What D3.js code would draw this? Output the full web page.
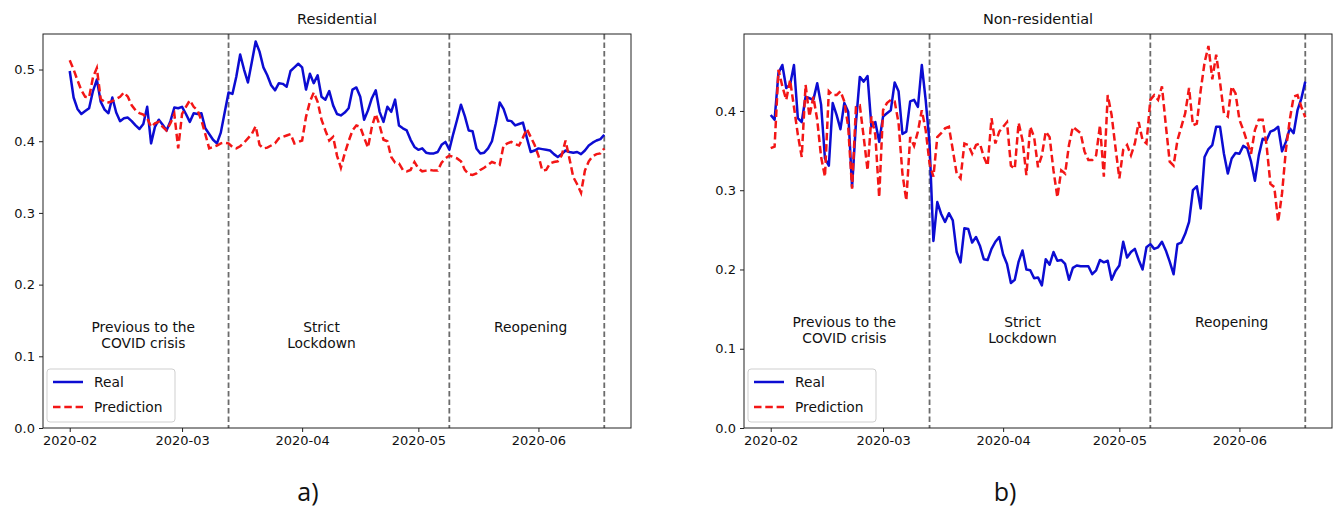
<!DOCTYPE html>
<html>
<head>
<meta charset="utf-8">
<script src="https://cdn.jsdelivr.net/npm/d3@7"></script>
<style>
  body { margin: 0; background: #fff; }
  svg text { font-family: "DejaVu Sans", sans-serif; fill: #111; }
</style>
</head>
<body>
<svg id="chart" width="1333" height="511"></svg>
<script>
// Daily series, one value per day starting at startDate
const startDate = "2020-02-01";

const residentialReal = [
  .498, .461, .445, .438, .442, .446, .470, .486, .455, .444,
  .439, .461, .440, .428, .432, .433, .428, .422, .417, .424,
  .448, .397, .420, .430, .423, .415, .428, .447, .446, .448,
  .438, .427, .439, .438, .439, .418, .410, .402, .397, .412,
  .440, .468, .466, .490, .521, .500, .482, .510, .539, .525,
  .503, .492, .478, .471, .481, .480, .476, .498, .503, .508,
  .503, .472, .494, .481, .492, .462, .458, .470, .450, .438,
  .436, .440, .446, .472, .475, .462, .430, .443, .460, .471,
  .441, .427, .448, .441, .458, .422, .418, .415, .402, .392,
  .388, .390, .384, .383, .383, .385, .395, .399, .388, .410,
  .430, .451, .435, .415, .414, .390, .383, .384, .390, .400,
  .425, .454, .445, .429, .428, .422, .424, .426, .405, .385,
  .387, .390, .389, .388, .387, .382, .378, .382, .387, .385,
  .384, .385, .382, .387, .394, .398, .401, .403, .409
];

const residentialPred = [
  .513, .500, .485, .471, .462, .461, .489, .502, .459, .455,
  .454, .456, .459, .462, .468, .462, .450, .443, .439, .437,
  .432, .420, .425, .427, .420, .415, .425, .438, .390, .438,
  .448, .457, .448, .443, .429, .410, .390, .392, .394, .397,
  .398, .397, .392, .390, .393, .398, .404, .410, .421, .395,
  .390, .391, .394, .397, .404, .406, .408, .410, .397, .399,
  .401, .434, .455, .468, .455, .430, .415, .401, .406, .380,
  .363, .383, .400, .415, .422, .420, .405, .391, .420, .438,
  .422, .402, .400, .378, .370, .369, .360, .358, .360, .371,
  .362, .358, .359, .360, .359, .359, .370, .376, .380, .378,
  .376, .372, .360, .354, .353, .355, .360, .363, .367, .371,
  .369, .367, .394, .397, .399, .396, .394, .405, .417, .406,
  .395, .380, .359, .360, .369, .371, .372, .380, .401, .376,
  .350, .340, .328, .359, .372, .379, .382, .383, .390
];

const nonResidentialReal = [
  .395, .389, .448, .458, .429, .433, .458, .391, .386, .418,
  .416, .414, .435, .408, .340, .331, .410, .395, .377, .410,
  .399, .304, .385, .443, .437, .444, .380, .386, .361, .393,
  .397, .401, .436, .425, .371, .374, .412, .414, .405, .458,
  .414, .359, .236, .285, .270, .260, .271, .262, .222, .209,
  .252, .251, .234, .241, .230, .213, .212, .226, .235, .241,
  .219, .207, .183, .187, .210, .224, .200, .199, .189, .190,
  .180, .213, .206, .222, .211, .212, .207, .187, .202, .205,
  .204, .204, .204, .194, .199, .212, .209, .211, .187, .198,
  .205, .235, .215, .222, .226, .212, .200, .228, .232, .226,
  .228, .235, .224, .210, .194, .232, .234, .245, .260, .300,
  .305, .277, .342, .352, .357, .380, .380, .346, .321, .340,
  .347, .346, .356, .353, .336, .312, .344, .365, .363, .374,
  .376, .380, .349, .361, .378, .372, .401, .416, .437
];

const nonResidentialPred = [
  .353, .355, .452, .431, .414, .439, .405, .370, .342, .433,
  .393, .418, .389, .342, .317, .425, .420, .420, .425, .412,
  .380, .302, .405, .407, .367, .325, .393, .370, .291, .401,
  .410, .414, .412, .385, .321, .287, .367, .356, .374, .401,
  .376, .334, .317, .367, .372, .378, .380, .351, .321, .315,
  .359, .357, .346, .357, .359, .342, .331, .391, .359, .374,
  .380, .386, .331, .327, .385, .363, .319, .380, .367, .329,
  .344, .374, .367, .325, .291, .325, .321, .357, .380, .376,
  .372, .349, .338, .338, .344, .382, .317, .420, .395, .354,
  .315, .351, .357, .344, .359, .386, .363, .359, .414, .420,
  .414, .431, .382, .336, .331, .363, .380, .397, .429, .382,
  .384, .426, .461, .482, .440, .471, .436, .397, .393, .431,
  .422, .389, .376, .361, .346, .376, .389, .389, .357, .308,
  .304, .260, .296, .351, .389, .418, .420, .405, .392
];

const phaseBreaks = ["2020-03-13", "2020-05-09", "2020-06-18"];
const phaseLabels = [["Previous to the", "COVID crisis"], ["Strict", "Lockdown"], ["Reopening"]];
const phaseLabelDates = ["2020-02-20", "2020-04-06", "2020-05-30"];
const xTickLabels = ["2020-02", "2020-03", "2020-04", "2020-05", "2020-06"];
const yTicksResidential = [0, 0.1, 0.2, 0.3, 0.4, 0.5];
const yTicksNonResidential = [0, 0.1, 0.2, 0.3, 0.4];
const panelTitles = ["Residential", "Non-residential"];
const panelCaptions = ["a)", "b)"];
const seriesNames = ["Real", "Prediction"];

const parseDay = d3.utcParse("%Y-%m-%d");
const parseMonth = d3.utcParse("%Y-%m");
const DAY = 864e5;
const t0 = parseDay(startDate);

const panels = [
  { real: residentialReal, pred: residentialPred, yTicks: yTicksResidential,
    box: { x0: 43, x1: 631, y0: 34, y1: 428 }, labelY: 0.134, captionX: 308 },
  { real: nonResidentialReal, pred: nonResidentialPred, yTicks: yTicksNonResidential,
    box: { x0: 744, x1: 1332, y0: 34, y1: 428 }, labelY: 0.128, captionX: 1005 }
];

const svg = d3.select("#chart");
const BLUE = "#0c0cd2";
const RED = "#f31616";

panels.forEach((p, k) => {
  const b = p.box;
  const dates = p.real.map((_, i) => new Date(+t0 + i * DAY));
  const allVals = p.real.concat(p.pred);
  const lo = d3.min(allVals), hi = d3.max(allVals);
  const span = +dates[dates.length - 1] - +dates[0];

  const x = d3.scaleUtc()
    .domain([new Date(+dates[0] - 0.05 * span), new Date(+dates[dates.length - 1] + 0.05 * span)])
    .range([b.x0, b.x1]);
  const y = d3.scaleLinear()
    .domain([0, hi + 0.05 * (hi - lo)])
    .range([b.y1, b.y0]);

  const g = svg.append("g");

  // axes
  const xAxis = d3.axisBottom(x)
    .tickValues(xTickLabels.map(parseMonth))
    .tickFormat(d3.utcFormat("%Y-%m"))
    .tickSize(4).tickPadding(4);
  const yAxis = d3.axisLeft(y)
    .tickValues(p.yTicks)
    .tickFormat(d3.format(".1f"))
    .tickSize(4).tickPadding(4);

  const gx = g.append("g").attr("transform", `translate(0,${b.y1})`).call(xAxis);
  const gy = g.append("g").attr("transform", `translate(${b.x0},0)`).call(yAxis);
  [gx, gy].forEach(a => {
    a.select(".domain").remove();
    a.selectAll(".tick line").attr("stroke", "#222").attr("stroke-width", 1);
    a.selectAll(".tick text").attr("font-size", 13).attr("fill", "#111");
  });

  // phase separators
  g.selectAll("line.phase").data(phaseBreaks).join("line")
    .attr("class", "phase")
    .attr("x1", d => x(parseDay(d))).attr("x2", d => x(parseDay(d)))
    .attr("y1", b.y0).attr("y2", b.y1)
    .attr("stroke", "#6b6b6b").attr("stroke-width", 1.8)
    .attr("stroke-dasharray", "5.5,3");

  // series
  const line = d3.line()
    .x((d, i) => x(dates[i]))
    .y(d => y(d));

  g.append("path").datum(p.real)
    .attr("d", line).attr("fill", "none")
    .attr("stroke", BLUE).attr("stroke-width", 2.5)
    .attr("stroke-linejoin", "round");
  g.append("path").datum(p.pred)
    .attr("d", line).attr("fill", "none")
    .attr("stroke", RED).attr("stroke-width", 2.5)
    .attr("stroke-dasharray", "7.5,3.8");

  // phase labels
  phaseLabels.forEach((lines, j) => {
    const t = g.append("text")
      .attr("x", x(parseDay(phaseLabelDates[j])))
      .attr("y", y(p.labelY))
      .attr("text-anchor", "middle")
      .attr("font-size", 13.8);
    lines.forEach((s, n) => {
      t.append("tspan")
        .attr("x", x(parseDay(phaseLabelDates[j])))
        .attr("dy", n === 0 ? 0 : 16)
        .text(s);
    });
  });

  // frame
  g.append("rect")
    .attr("x", b.x0).attr("y", b.y0)
    .attr("width", b.x1 - b.x0).attr("height", b.y1 - b.y0)
    .attr("fill", "none").attr("stroke", "#222").attr("stroke-width", 1);

  // legend
  const lg = g.append("g").attr("transform", `translate(${b.x0 + 4},${b.y1 - 59})`);
  lg.append("rect")
    .attr("width", 128).attr("height", 53).attr("rx", 3)
    .attr("fill", "#fff").attr("fill-opacity", 0.85)
    .attr("stroke", "#cfcfcf").attr("stroke-width", 1);
  seriesNames.forEach((name, n) => {
    const yy = 13 + n * 25;
    lg.append("line")
      .attr("x1", 6).attr("x2", 36).attr("y1", yy).attr("y2", yy)
      .attr("stroke", n === 0 ? BLUE : RED).attr("stroke-width", 2.5)
      .attr("stroke-dasharray", n === 0 ? null : "7.5,3.8");
    lg.append("text")
      .attr("x", 47).attr("y", yy + 5)
      .attr("font-size", 13.8)
      .text(name);
  });

  // title
  svg.append("text")
    .attr("x", (b.x0 + b.x1) / 2).attr("y", 24)
    .attr("text-anchor", "middle").attr("font-size", 14.5)
    .text(panelTitles[k]);

  // caption
  svg.append("text")
    .attr("x", p.captionX).attr("y", 501)
    .attr("text-anchor", "middle")
    .style("font-family", "'Open Sans', sans-serif")
    .attr("font-size", 25)
    .text(panelCaptions[k]);
});
</script>
</body>
</html>
